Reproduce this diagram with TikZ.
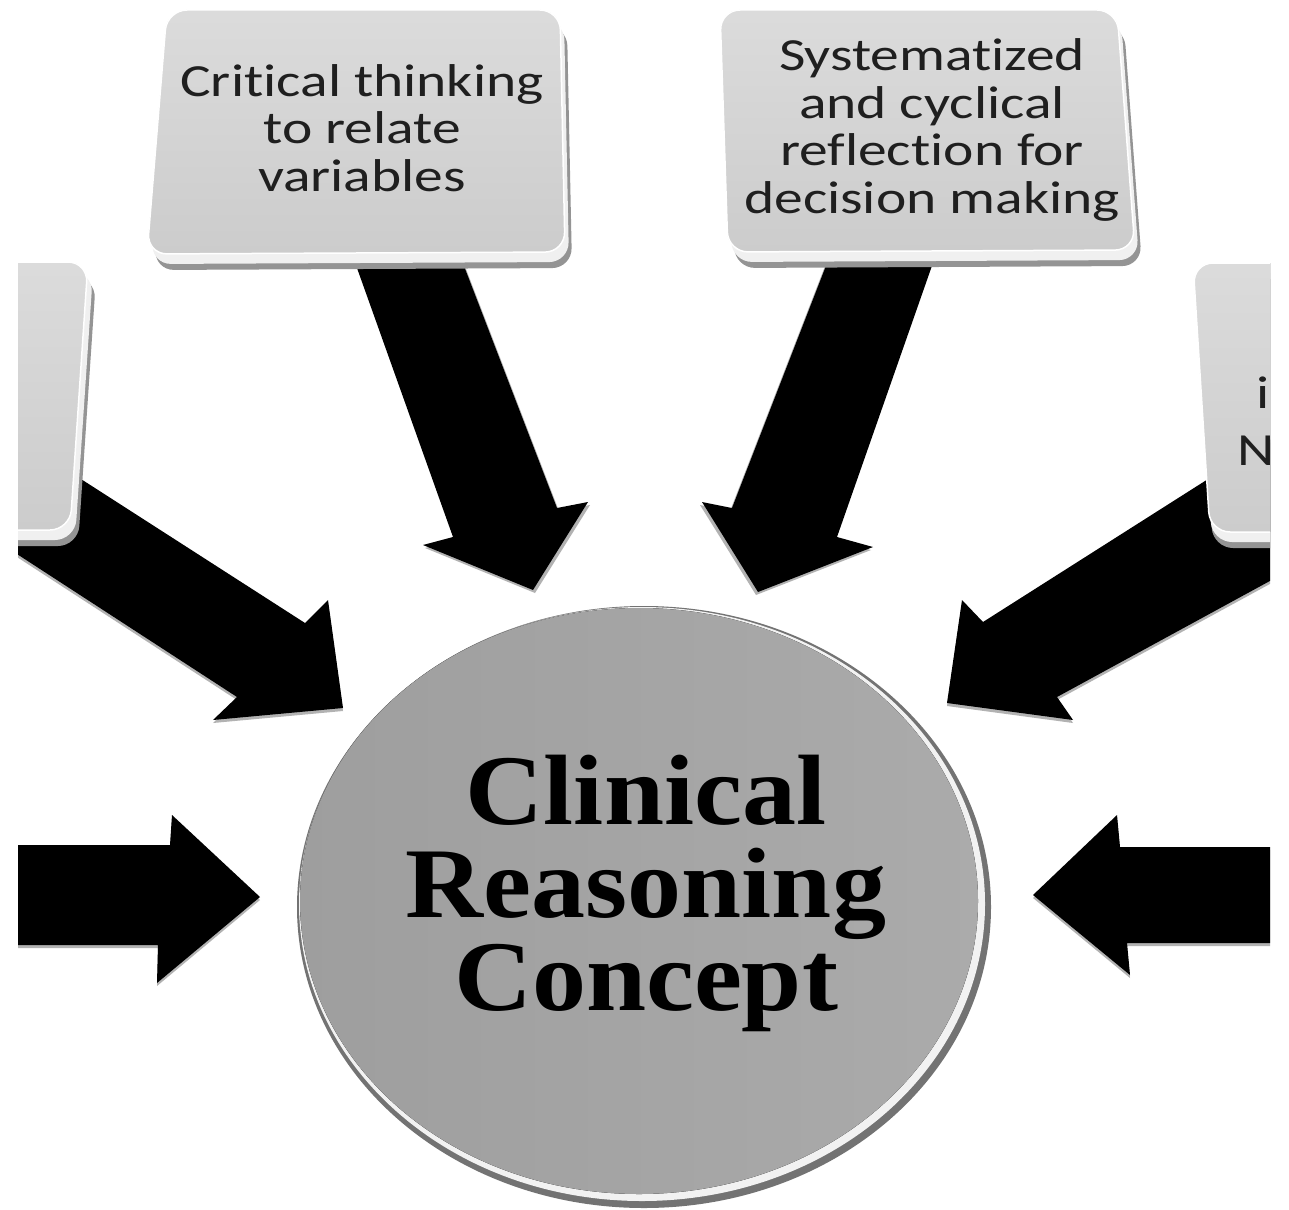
\documentclass[tikz,border=0pt]{standalone}
\usepackage{fontspec}
\newfontfamily\boxfont[Ligatures={NoCommon}]{Carlito}
\newfontfamily\discfont{Liberation Serif}
\begin{document}
\begin{tikzpicture}[x=1pt,y=-1pt,
  arrowbody/.style={fill=black},
  arrowrim/.style={fill=black!30},
  boxface/.style={top color=black!14, bottom color=black!20, draw=white, line width=1.5pt, rounded corners=20pt},
  rimlight/.style={fill=black!6, rounded corners=20pt},
  rimdark/.style={fill=black!42, rounded corners=20pt},
  boxtext/.style={font=\boxfont\fontsize{46}{47.5}\selectfont, align=center, xscale=1.25, inner sep=0pt, text=black!88},
  disctext/.style={font=\discfont\bfseries\fontsize{100}{93}\selectfont, align=center, inner sep=0pt, xscale=1.08}]
\useasboundingbox (0,0) rectangle (1289,1209);
\fill[white] (0,0) rectangle (1289,1209);

\begin{scope}
\clip (18,0) rectangle (1270,1209);
% arrow A (from left top box)
\fill[arrowrim, shift={(2,3)}] (347,240) -- (453,537) -- (423,545) -- (533,590) -- (588,502) -- (557,508) -- (454,240) -- cycle;
\fill[arrowbody] (347,240) -- (453,537) -- (423,545) -- (533,590) -- (588,502) -- (557,508) -- (454,240) -- cycle;
% arrow B (from right top box)
\fill[arrowrim, shift={(-2,3)}] (941,240) -- (837,537) -- (873,547) -- (758,592) -- (702,502) -- (732,508) -- (836,240) -- cycle;
\fill[arrowbody] (941,240) -- (837,537) -- (873,547) -- (758,592) -- (702,502) -- (732,508) -- (836,240) -- cycle;
% arrow C (upper left)
\fill[arrowrim, shift={(0,3)}] (0,427) -- (305,623) -- (328,600) -- (343,708) -- (213,720) -- (237,697) -- (0,543) -- cycle;
\fill[arrowbody] (0,427) -- (305,623) -- (328,600) -- (343,708) -- (213,720) -- (237,697) -- (0,543) -- cycle;
% arrow D (upper right)
\fill[arrowrim, shift={(0,3)}] (1290,427) -- (983,622) -- (962,600) -- (947,703) -- (1073,720) -- (1057,697) -- (1290,570) -- cycle;
\fill[arrowbody] (1290,427) -- (983,622) -- (962,600) -- (947,703) -- (1073,720) -- (1057,697) -- (1290,570) -- cycle;
% arrow E (left)
\fill[arrowrim, shift={(0,3)}] (0,845) -- (170,845) -- (172,815) -- (260,897) -- (157,983) -- (158,945) -- (0,945) -- cycle;
\fill[arrowbody] (0,845) -- (170,845) -- (172,815) -- (260,897) -- (157,983) -- (158,945) -- (0,945) -- cycle;
% arrow F (right)
\fill[arrowrim, shift={(0,3)}] (1290,847) -- (1120,847) -- (1117,815) -- (1033,895) -- (1130,975) -- (1127,943) -- (1290,943) -- cycle;
\fill[arrowbody] (1290,847) -- (1120,847) -- (1117,815) -- (1033,895) -- (1130,975) -- (1127,943) -- (1290,943) -- cycle;

% left partial box
\fill[rimdark, shift={(8,16)}] (-40,262) -- (88,262) -- (70,530) -- (-40,530) -- cycle;
\fill[rimlight, shift={(5,10)}] (-40,262) -- (88,262) -- (70,530) -- (-40,530) -- cycle;
\fill[boxface] (-40,262) -- (88,262) -- (70,530) -- (-40,530) -- cycle;
% right partial box
\fill[rimdark, shift={(3,16)}] (1193,263) -- (1330,263) -- (1330,532) -- (1210,532) -- cycle;
\fill[rimlight, shift={(2,10)}] (1193,263) -- (1330,263) -- (1330,532) -- (1210,532) -- cycle;
\fill[boxface] (1193,263) -- (1330,263) -- (1330,532) -- (1210,532) -- cycle;
\node[boxtext, anchor=base west] (ri) at (1256,408) {i};
\node[boxtext, anchor=base west] (rn) at (1237,465) {N};
\end{scope}

% top box 1
\fill[rimdark, shift={(7,16)}] (167,10) -- (560,10) -- (565,252) -- (147,254) -- cycle;
\fill[rimlight, shift={(4,10)}] (167,10) -- (560,10) -- (565,252) -- (147,254) -- cycle;
\fill[boxface] (167,10) -- (560,10) -- (565,252) -- (147,254) -- cycle;
\node[boxtext] (t1) at (362,128) {Critical thinking\\to relate\\variables};

% top box 2
\fill[rimdark, shift={(7,16)}] (720,10) -- (1117,10) -- (1135,250) -- (728,252) -- cycle;
\fill[rimlight, shift={(4,10)}] (720,10) -- (1117,10) -- (1135,250) -- (728,252) -- cycle;
\fill[boxface] (720,10) -- (1117,10) -- (1135,250) -- (728,252) -- cycle;
\node[boxtext] (t2) at (932,130) {Systematized\\and cyclical\\reflection for\\decision making};

% central disc
\fill[black!55] (644,907) ellipse [x radius=347, y radius=301];
\fill[black!5] (642,904) ellipse [x radius=343, y radius=297];
\fill[left color=black!38, right color=black!33] (639,901) ellipse [x radius=339, y radius=293];
\node[disctext] (c) at (646,893) {Clinical\\Reasoning\\Concept};
\end{tikzpicture}
\end{document}
